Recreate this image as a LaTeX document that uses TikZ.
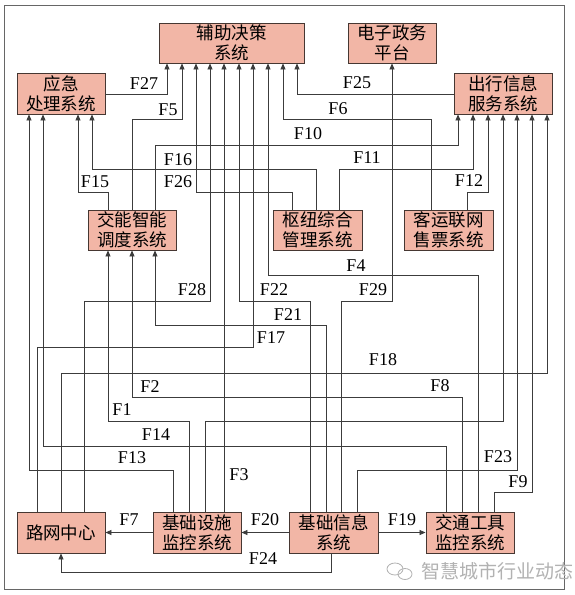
\documentclass[tikz,border=0pt]{standalone}
\usepackage{fontspec}
\setmainfont{Liberation Serif}
\newfontfamily\cjk{Noto Sans CJK SC}
\usetikzlibrary{arrows.meta}
\definecolor{boxfill}{RGB}{242,182,166}
\definecolor{wirec}{RGB}{60,60,60}
\definecolor{boxline}{RGB}{70,55,50}
\begin{document}
\begin{tikzpicture}[x=1pt,y=-1pt,
 box/.style={draw=boxline, fill=boxfill, line width=0.9pt, inner sep=0pt, align=center, font=\cjk\fontsize{17.5}{20}\selectfont},
 wire/.style={draw=wirec, line width=0.75pt},
 arr/.style={wire, -{Triangle[width=5pt,length=6pt]}},
 lab/.style={inner sep=0pt, font=\fontsize{18}{18}\selectfont}]
\fill[white] (0,0) rectangle (575,595);
\useasboundingbox (0,0) rectangle (575,595);
\draw[draw=black!60, line width=0.8pt] (4,5) rectangle (564,589);
% boxes
\node[box, minimum width=145, minimum height=40] (fz) at (231.5,43) {辅助决策\\系统};
\node[box, minimum width=88, minimum height=40] (dz) at (392,43) {电子政务\\平台};
\node[box, minimum width=88, minimum height=41] (yj) at (61,93.5) {应急\\处理系统};
\node[box, minimum width=98, minimum height=41] (cx) at (503,93.5) {出行信息\\服务系统};
\node[box, minimum width=88, minimum height=40] (jt) at (132,230) {交能智能\\调度系统};
\node[box, minimum width=89, minimum height=40] (sn) at (317.5,230) {枢纽综合\\管理系统};
\node[box, minimum width=89, minimum height=40] (ky) at (448.5,230) {客运联网\\售票系统};
\node[box, minimum width=88, minimum height=41] (lw) at (61,532.5) {路网中心};
\node[box, minimum width=88, minimum height=41] (jcss) at (197,532.5) {基础设施\\监控系统};
\node[box, minimum width=89, minimum height=41] (jcxx) at (333.5,532.5) {基础信息\\系统};
\node[box, minimum width=88, minimum height=41] (jtgj) at (470,532.5) {交通工具\\监控系统};
% connectors
\draw[arr] (yj.east |- 0,94) -| (fz.south -| 167,0);
\draw[arr] (jt.north -| 132,0) |- (182,119) -- (fz.south -| 182,0);
\draw[arr] (jt.north -| 155,0) |- (458,145) -- (cx.south -| 458,0);
\draw[arr] (jt.north -| 108,0) |- (78,192) -- (yj.south -| 78,0);
\draw[arr] (sn.north -| 316,0) |- (92,169) -- (yj.south -| 92,0);
\draw[arr] (sn.north -| 292,0) |- (196,192) -- (fz.south -| 196,0);
\draw[arr] (sn.north -| 339,0) |- (473,169) -- (cx.south -| 473,0);
\draw[arr] (cx.west |- 0,94) -| (fz.south -| 297,0);
\draw[arr] (ky.north -| 431,0) |- (283,119) -- (fz.south -| 283,0);
\draw[arr] (ky.north -| 467,0) |- (488,192) -- (cx.south -| 488,0);
\draw[arr] (jcxx.north -| 341,0) |- (392,301) -- (dz.south -| 392,0);
\draw[arr] (jcxx.north -| 310,0) |- (239,301) -- (fz.south -| 239,0);
\draw[arr] (jcxx.north -| 326,0) |- (155,325) -- (jt.south -| 155,0);
\draw[arr] (lw.north -| 84,0) |- (210,301) -- (fz.south -| 210,0);
\draw[arr] (lw.north -| 37,0) |- (253,347) -- (fz.south -| 253,0);
\draw[arr] (jtgj.north -| 478,0) |- (268,275) -- (fz.south -| 268,0);
\draw[arr] (jcss.north -| 224,0) -- (fz.south -| 224,0);
\draw[arr] (lw.north -| 61,0) |- (547,373) -- (cx.south -| 547,0);
\draw[arr] (jtgj.north -| 462,0) |- (132,397) -- (jt.south -| 132,0);
\draw[arr] (jcss.north -| 189,0) |- (108,421) -- (jt.south -| 108,0);
\draw[arr] (jcss.north -| 205,0) |- (503,421) -- (cx.south -| 503,0);
\draw[arr] (jtgj.north -| 446,0) |- (43,446) -- (yj.south -| 43,0);
\draw[arr] (jcss.north -| 173,0) |- (29,470) -- (yj.south -| 29,0);
\draw[arr] (jcxx.north -| 357,0) |- (517,470) -- (cx.south -| 517,0);
\draw[arr] (jtgj.north -| 494,0) |- (532,492) -- (cx.south -| 532,0);
\draw[arr] (jcxx.south -| 331,0) |- (61,572) -- (lw.south -| 61,0);
\draw[arr] (jcss.west) -- (lw.east);
\draw[arr] (jcxx.west) -- (jcss.east);
\draw[arr] (jcxx.east) -- (jtgj.west);
% labels
\node[lab] (lF27) at (144,84) {F27};
\node[lab] (lF5) at (168,110) {F5};
\node[lab] (lF16) at (178,160) {F16};
\node[lab] (lF26) at (178,182) {F26};
\node[lab] (lF15) at (95,182) {F15};
\node[lab] (lF25) at (357,83) {F25};
\node[lab] (lF6) at (338,109) {F6};
\node[lab] (lF10) at (308,134) {F10};
\node[lab] (lF11) at (367,158) {F11};
\node[lab] (lF12) at (469,181) {F12};
\node[lab] (lF4) at (356,266) {F4};
\node[lab] (lF29) at (373,290) {F29};
\node[lab] (lF28) at (192,290) {F28};
\node[lab] (lF22) at (274,290) {F22};
\node[lab] (lF21) at (288,315) {F21};
\node[lab] (lF17) at (271,338) {F17};
\node[lab] (lF18) at (383,360) {F18};
\node[lab] (lF8) at (440,386) {F8};
\node[lab] (lF2) at (150,387) {F2};
\node[lab] (lF1) at (122,410) {F1};
\node[lab] (lF14) at (156,435) {F14};
\node[lab] (lF13) at (132,458) {F13};
\node[lab] (lF3) at (239,475) {F3};
\node[lab] (lF23) at (498,457) {F23};
\node[lab] (lF9) at (518,482) {F9};
\node[lab] (lF7) at (129,520) {F7};
\node[lab] (lF20) at (265,520) {F20};
\node[lab] (lF24) at (263,559) {F24};
\node[lab] (lF19) at (402,520) {F19};
% watermark
\draw[black!30, line width=0.8pt] (395,569) ellipse (8 and 6);
\draw[black!30, line width=0.8pt] (405,574) ellipse (7 and 5.5);
\node[inner sep=0pt, font=\cjk\fontsize{19}{19}\selectfont, text=black!30] (wm) at (497,571) {智慧城市行业动态};
\end{tikzpicture}
\end{document}
